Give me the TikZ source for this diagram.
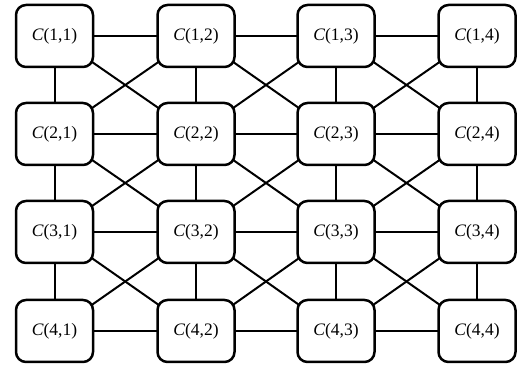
\documentclass[tikz,border=0pt]{standalone}
\usepackage{fontspec}
\setmainfont{Liberation Serif}
\usetikzlibrary{backgrounds}
\begin{document}
\begin{tikzpicture}[x=1pt,y=1pt,
  cell/.style={draw, fill=white, line width=2.5pt, rounded corners=10pt,
    minimum width=77pt, minimum height=62pt, inner sep=0pt,
    font=\fontsize{17.5}{21}\selectfont},
  link/.style={line width=2pt}]
\useasboundingbox (0,0) rectangle (527,366);
\def\colx{{54.5,196,336,477}}
\def\rowy{{36,134,232,331}}
\foreach \i in {1,...,4}{
  \foreach \j in {1,...,4}{
    \pgfmathsetmacro\xx{\colx[\j-1]}
    \pgfmathsetmacro\yy{366-\rowy[\i-1]}
    \node[cell] (c\i\j) at (\xx,\yy) {\textit{C}(\i,\j)};
  }
}
\begin{scope}[on background layer]
\foreach \i in {1,...,4}{
  \foreach \j/\k in {1/2,2/3,3/4}{
    \draw[link] (c\i\j.center) -- (c\i\k.center);
    \draw[link] (c\j\i.center) -- (c\k\i.center);
  }
}
\foreach \i/\ii in {1/2,2/3,3/4}{
  \foreach \j/\jj in {1/2,2/3,3/4}{
    \draw[link] (c\i\j.center) -- (c\ii\jj.center);
    \draw[link] (c\i\jj.center) -- (c\ii\j.center);
  }
}
\end{scope}
\end{tikzpicture}
\end{document}
